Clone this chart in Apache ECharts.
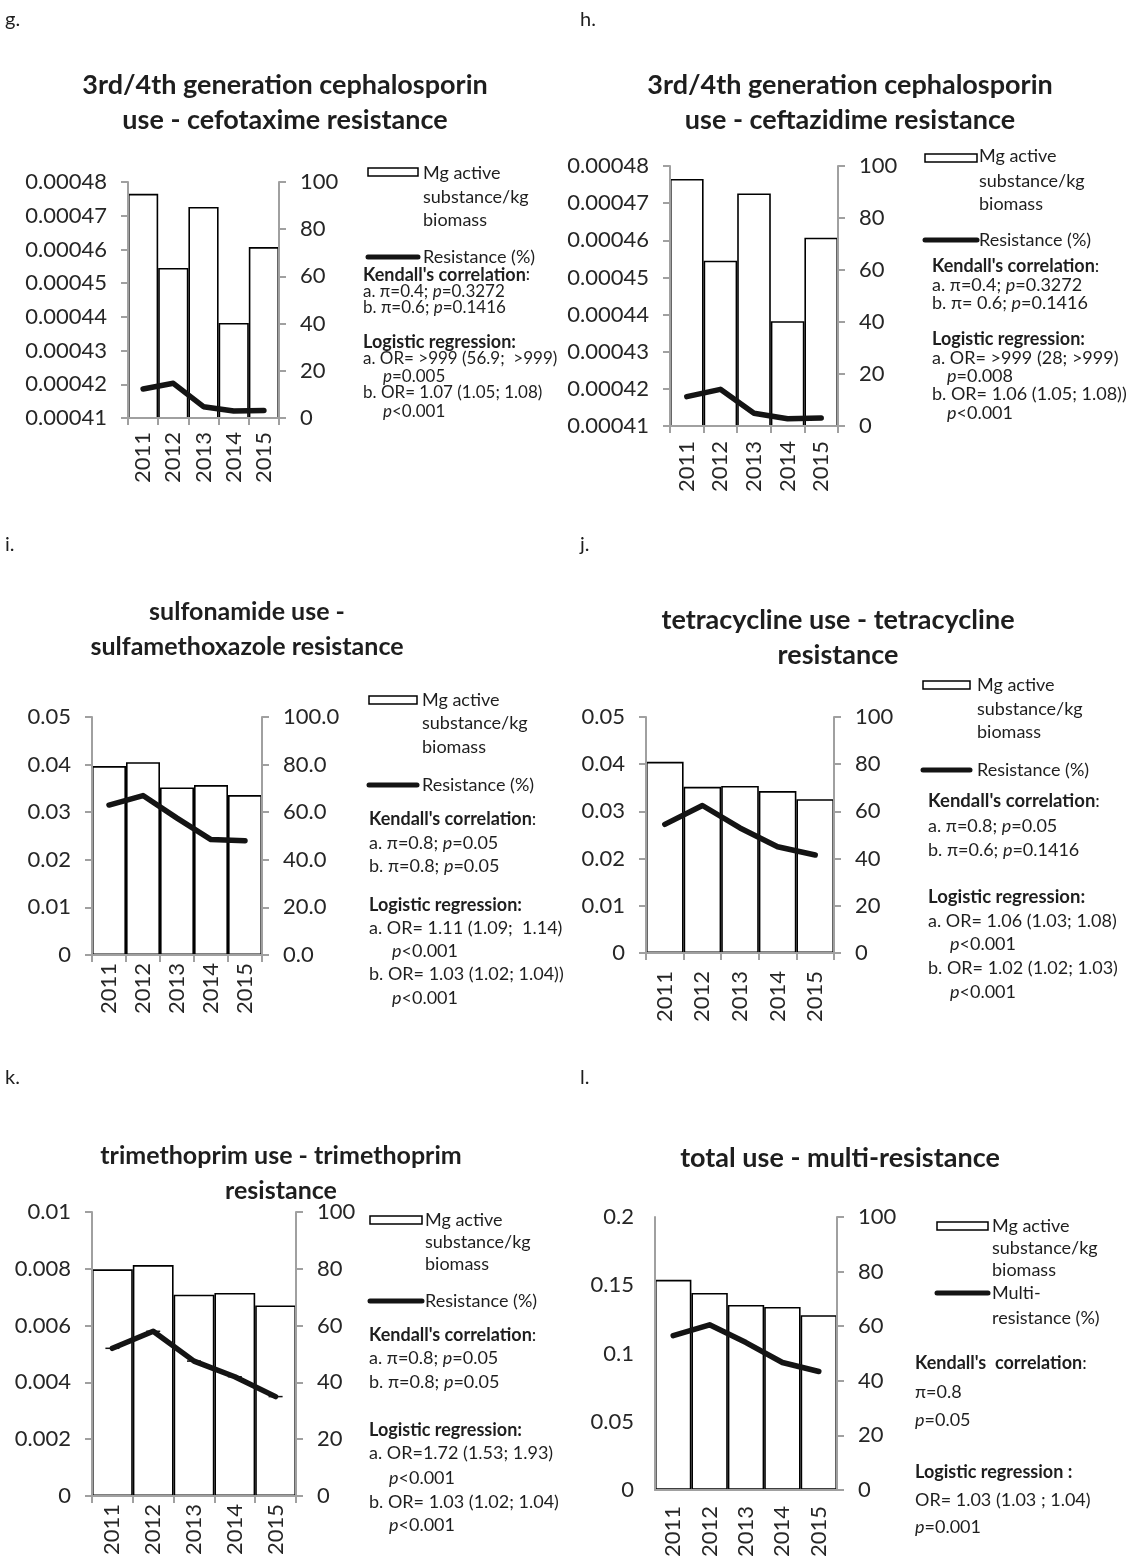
<!DOCTYPE html>
<html><head><meta charset="utf-8">
<script src="https://cdn.jsdelivr.net/npm/echarts@6/dist/echarts.min.js"></script>
<style>html,body{margin:0;padding:0;background:#fff}#c{width:1137px;height:1560px}</style>
</head><body><div id="c"></div>
<script>
// ---------------- DATA ----------------
const years = ['2011', '2012', '2013', '2014', '2015'];
// g, h : 3rd/4th generation cephalosporin use (Mg active substance/kg biomass)
const cephUse = [0.0004765, 0.0004545, 0.0004726, 0.0004382, 0.0004607];
const cefotaximeRes = [12.3, 14.7, 4.8, 3.0, 3.2];
const ceftazidimeRes = [11.3, 14.1, 4.9, 2.8, 3.1];
// i : sulfonamide use - sulfamethoxazole resistance
const sulfUse = [0.0397, 0.0405, 0.0352, 0.0357, 0.0336];
const sulfRes = [63.0, 67.0, 57.5, 48.5, 48.0];
// j : tetracycline use - tetracycline resistance
const tetUse = [0.0405, 0.0352, 0.0354, 0.0343, 0.0326];
const tetRes = [54.5, 62.5, 53.0, 45.0, 41.5];
// k : trimethoprim use - trimethoprim resistance
const tmpUse = [0.00798, 0.00813, 0.00709, 0.00715, 0.00671];
const tmpRes = [52.0, 58.0, 47.5, 42.0, 35.0];
// l : total use - multi-resistance
const totalUse = [0.154, 0.1444, 0.1356, 0.1341, 0.128];
const multiRes = [56.5, 60.5, 54.0, 46.7, 43.4];

// axis ranges [min, max, interval]
const cephTicks = [0.00041, 0.00048, 0.00001];
const sulfTicks = [0, 0.05, 0.01];
const tetTicks = [0, 0.05, 0.01];
const tmpTicks = [0, 0.01, 0.002];
const totalTicks = [0, 0.2, 0.05];
const pctTicks = [0, 100, 20];

// texts
const panelLetters = ['g.', 'h.', 'i.', 'j.', 'k.', 'l.'];
const titles = [
  ['3rd/4th generation cephalosporin', 'use - cefotaxime resistance'],
  ['3rd/4th generation cephalosporin', 'use - ceftazidime resistance'],
  ['sulfonamide use -', 'sulfamethoxazole resistance'],
  ['tetracycline use - tetracycline', 'resistance'],
  ['trimethoprim use - trimethoprim', 'resistance'],
  ['total use - multi-resistance']
];
const useLegend = ['Mg active', 'substance/kg', 'biomass'];
const resLegend = ['Resistance (%)'];
const multiLegend = ['Multi-', 'resistance (%)'];
const notesG = ["{b|Kendall's correlation}:", "a. π=0.4; {i|p}=0.3272", "b. π=0.6; {i|p}=0.1416",
  "{b|Logistic regression:}", "a. OR= >999 (56.9;  >999)", "{i|p}=0.005", "b. OR= 1.07 (1.05; 1.08)", "{i|p}<0.001"];
const notesH = ["{b|Kendall's correlation}:", "a. π=0.4; {i|p}=0.3272", "b. π= 0.6; {i|p}=0.1416",
  "{b|Logistic regression:}", "a. OR= >999 (28; >999)", "{i|p}=0.008", "b. OR= 1.06 (1.05; 1.08))", "{i|p}<0.001"];
const notesI = ["{b|Kendall's correlation}:", "a. π=0.8; {i|p}=0.05", "b. π=0.8; {i|p}=0.05",
  "{b|Logistic regression:}", "a. OR= 1.11 (1.09;  1.14)", "{i|p}<0.001", "b. OR= 1.03 (1.02; 1.04))", "{i|p}<0.001"];
const notesJ = ["{b|Kendall's correlation}:", "a. π=0.8; {i|p}=0.05", "b. π=0.6; {i|p}=0.1416",
  "{b|Logistic regression:}", "a. OR= 1.06 (1.03; 1.08)", "{i|p}<0.001", "b. OR= 1.02 (1.02; 1.03)", "{i|p}<0.001"];
const notesK = ["{b|Kendall's correlation}:", "a. π=0.8; {i|p}=0.05", "b. π=0.8; {i|p}=0.05",
  "{b|Logistic regression:}", "a. OR=1.72 (1.53; 1.93)", "{i|p}<0.001", "b. OR= 1.03 (1.02; 1.04)", "{i|p}<0.001"];
const notesL = ["{b|Kendall's  correlation}:", "π=0.8", "{i|p}=0.05",
  "{b|Logistic regression :}", "OR= 1.03 (1.03 ; 1.04)", "{i|p}=0.001"];

// ---------------- LAYOUT ----------------
const FONT = 'Lato, "Open Sans", sans-serif';
const AX = '#a0a0a0';
const TXT = '#1e1e1e';
const fmtDec = v => String(+v.toFixed(6));
const fmt5 = v => v.toFixed(5);
const fmtInt = v => String(Math.round(v));
const fmt1 = v => v.toFixed(1);

const panels = [
  {grid: [128, 182, 151, 236], use: cephUse, res: cefotaximeRes, lt: cephTicks, lf: fmt5, rf: fmtInt, xm: 14, lTick: true, xTick: true,
   title: {x: 285, ys: [85, 120], size: 27}, letter: [5, 20],
   leg: {bx: 368, by: 172, bw: 50, tx: 423, ys: [173, 197, 220], ly: 257, rys: [257]},
   notes: notesG, nfs: 17, nbs: 18, nx: 363, nys: [275, 292, 308, 342, 359, 377, 393, 412], px: 383},
  {grid: [670, 166, 168, 260], use: cephUse, res: ceftazidimeRes, lt: cephTicks, lf: fmt5, rf: fmtInt, xm: 15, lTick: true, xTick: true,
   title: {x: 850, ys: [85, 120], size: 27}, letter: [580, 20],
   leg: {bx: 925, by: 158, bw: 52, tx: 979, ys: [156, 181, 204], ly: 240, rys: [240]},
   notes: notesH, nfs: 18, nbs: 18, nx: 932, nys: [266, 285, 303, 339, 358, 376, 394, 413], px: 947},
  {grid: [92, 717, 170, 238], use: sulfUse, res: sulfRes, lt: sulfTicks, lf: fmtDec, rf: fmt1, xm: 8, lTick: true, xTick: true,
   title: {x: 247, ys: [612, 647], size: 25}, letter: [5, 545],
   leg: {bx: 369, by: 700, bw: 48, tx: 422, ys: [700, 723, 747], ly: 785, rys: [785]},
   notes: notesI, nfs: 18, nbs: 18, nx: 369, nys: [819, 843, 866, 905, 928, 951, 974, 998], px: 392},
  {grid: [646, 717, 188, 236], use: tetUse, res: tetRes, lt: tetTicks, lf: fmtDec, rf: fmtInt, xm: 18, lTick: true, xTick: true,
   title: {x: 838, ys: [620, 655], size: 27}, letter: [580, 545],
   leg: {bx: 923, by: 685, bw: 47, tx: 977, ys: [685, 709, 732], ly: 770, rys: [770]},
   notes: notesJ, nfs: 18, nbs: 18.5, nx: 928, nys: [801, 826, 850, 897, 921, 944, 968, 992], px: 950},
  {grid: [92, 1212, 204, 284], use: tmpUse, res: tmpRes, lt: tmpTicks, lf: fmtDec, rf: fmtInt, xm: 8, lTick: true, xTick: true,
   title: {x: 281, ys: [1156, 1191], size: 25}, letter: [5, 1078], dashMarks: true,
   leg: {bx: 370, by: 1220, bw: 52, tx: 425, ys: [1220, 1242, 1264], ly: 1301, rys: [1301]},
   notes: notesK, nfs: 18, nbs: 18, nx: 369, nys: [1335, 1358, 1382, 1430, 1453, 1478, 1502, 1525], px: 389},
  {grid: [655, 1217, 182, 273], use: totalUse, res: multiRes, lt: totalTicks, lf: fmtDec, rf: fmtInt, xm: 16, lTick: false, xTick: false,
   title: {x: 840, ys: [1158], size: 27}, letter: [580, 1078],
   leg: {bx: 937, by: 1226, bw: 51, tx: 992, ys: [1226, 1248, 1270], ly: 1293, rys: [1293, 1318], multi: true},
   notes: notesL, nfs: 18, nbs: 18, nx: 915, nys: [1363, 1392, 1420, 1472, 1500, 1527], px: 915}
];

const grids = [], xAxes = [], yAxes = [], series = [], graphics = [];
const axisText = {fontSize: 22, fontFamily: FONT, color: '#262626'};
function text(x, y, t, size, opts) {
  opts = opts || {};
  const bs = opts.boldSize || size;
  return {
    type: 'text', x: x, y: y, silent: true, z: 10,
    style: {
      text: t, fill: TXT, fontSize: size, fontFamily: FONT, fontWeight: opts.bold ? 'bold' : 'normal',
      align: opts.align || 'left', textAlign: opts.align || 'left',
      verticalAlign: 'middle', textVerticalAlign: 'middle',
      rich: {
        b: {fontWeight: 'bold', fontSize: bs, fontFamily: FONT, color: TXT},
        i: {fontStyle: 'italic', fontSize: size, fontFamily: FONT, color: TXT}
      }
    }
  };
}

panels.forEach((p, i) => {
  const [l, t, w, h] = p.grid;
  grids.push({left: l, top: t, width: w, height: h, containLabel: false});
  xAxes.push({
    gridIndex: i, type: 'category', data: years, boundaryGap: true, z: 5,
    axisLine: {show: true, onZero: false, lineStyle: {color: AX, width: 2}},
    axisTick: {show: p.xTick, length: 7, lineStyle: {color: AX, width: 2}},
    axisLabel: Object.assign({rotate: 90, margin: p.xm, interval: 0}, axisText),
    splitLine: {show: false}
  });
  yAxes.push({
    gridIndex: i, type: 'value', position: 'left', min: p.lt[0], max: p.lt[1], interval: p.lt[2], z: 5,
    axisLine: {show: true, lineStyle: {color: AX, width: 2}},
    axisTick: {show: p.lTick, length: 7, lineStyle: {color: AX, width: 2}},
    axisLabel: Object.assign({margin: 21, formatter: p.lf}, axisText),
    splitLine: {show: false}
  });
  yAxes.push({
    gridIndex: i, type: 'value', position: 'right', min: pctTicks[0], max: pctTicks[1], interval: pctTicks[2], z: 5,
    axisLine: {show: true, lineStyle: {color: AX, width: 2}},
    axisTick: {show: true, length: 7, lineStyle: {color: AX, width: 2}},
    axisLabel: Object.assign({margin: 21, formatter: p.rf}, axisText),
    splitLine: {show: false}
  });
  series.push({
    type: 'bar', xAxisIndex: i, yAxisIndex: 2 * i, data: p.use, barCategoryGap: '0%', silent: true, z: 2,
    itemStyle: {color: '#ffffff', borderColor: '#000000', borderWidth: 1.6}
  });
  series.push({
    type: 'line', xAxisIndex: i, yAxisIndex: 2 * i + 1, data: p.res, silent: true, z: 6,
    symbol: p.dashMarks ? 'rect' : 'none', symbolSize: [14, 1.5], showSymbol: !!p.dashMarks,
    itemStyle: {color: '#141414'},
    lineStyle: {color: '#141414', width: 5.5, cap: 'round', join: 'round'}
  });

  // panel letter
  graphics.push(text(p.letter[0], p.letter[1], panelLetters[i], 20));
  // title
  titles[i].forEach((s, k) => graphics.push(text(p.title.x, p.title.ys[k], s, p.title.size, {bold: true, align: 'center'})));
  // legend
  const g = p.leg;
  graphics.push({type: 'rect', silent: true, z: 10, shape: {x: g.bx, y: g.by - 4, width: g.bw, height: 8},
    style: {fill: '#fff', stroke: '#000', lineWidth: 1.5}});
  useLegend.forEach((s, k) => graphics.push(text(g.tx, g.ys[k], s, 18)));
  graphics.push({type: 'line', silent: true, z: 10, shape: {x1: g.bx, y1: g.ly, x2: g.bx + g.bw, y2: g.ly},
    style: {stroke: '#141414', lineWidth: 5, lineCap: 'round'}});
  (g.multi ? multiLegend : resLegend).forEach((s, k) => graphics.push(text(g.tx, g.rys[k], s, 18)));
  // statistics notes
  p.notes.forEach((s, k) => {
    const isP = /^\{i\|p\}/.test(s) && p.notes.length === 8;
    graphics.push(text(isP ? p.px : p.nx, p.nys[k], s, p.nfs, {boldSize: p.nbs}));
  });
});

const chart = echarts.init(document.getElementById('c'));
chart.setOption({
  animation: false,
  backgroundColor: '#ffffff',
  grid: grids, xAxis: xAxes, yAxis: yAxes, series: series,
  graphic: {elements: graphics}
});
</script></body></html>
